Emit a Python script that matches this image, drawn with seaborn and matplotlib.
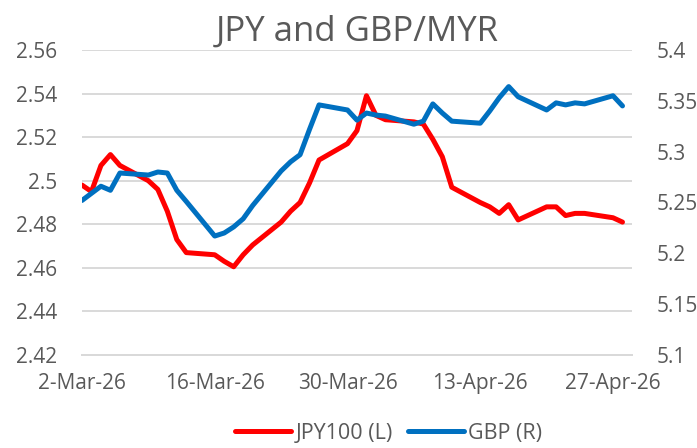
import pandas as pd
import matplotlib.pyplot as plt
import seaborn as sns

# daily fixes (weekdays)
dates = ["2026-03-02", "2026-03-03", "2026-03-04", "2026-03-05", "2026-03-06",
         "2026-03-09", "2026-03-10", "2026-03-11", "2026-03-12", "2026-03-13",
         "2026-03-16", "2026-03-17", "2026-03-18", "2026-03-19", "2026-03-20",
         "2026-03-23", "2026-03-24", "2026-03-25", "2026-03-26", "2026-03-27",
         "2026-03-30", "2026-03-31", "2026-04-01", "2026-04-02", "2026-04-03",
         "2026-04-06", "2026-04-07", "2026-04-08", "2026-04-09", "2026-04-10",
         "2026-04-13", "2026-04-14", "2026-04-15", "2026-04-16", "2026-04-17",
         "2026-04-20", "2026-04-21", "2026-04-22", "2026-04-23", "2026-04-24",
         "2026-04-27", "2026-04-28"]
jpy100 = [2.498, 2.495, 2.507, 2.512, 2.507,
          2.500, 2.496, 2.486, 2.473, 2.467,
          2.466, 2.463, 2.4605, 2.466, 2.4705,
          2.481, 2.486, 2.490, 2.499, 2.5095,
          2.517, 2.523, 2.539, 2.530, 2.528,
          2.527, 2.526, 2.519, 2.511, 2.497,
          2.490, 2.488, 2.485, 2.489, 2.482,
          2.488, 2.488, 2.484, 2.485, 2.485,
          2.483, 2.481]
gbp = [5.252, 5.259, 5.266, 5.262, 5.279,
       5.277, 5.280, 5.279, 5.262, 5.251,
       5.217, 5.220, 5.226, 5.234, 5.247,
       5.281, 5.290, 5.297, 5.322, 5.346,
       5.341, 5.331, 5.338, 5.336, 5.335,
       5.327, 5.330, 5.347, 5.338, 5.330,
       5.328, 5.340, 5.353, 5.364, 5.354,
       5.341, 5.348, 5.346, 5.348, 5.347,
       5.355, 5.345]
left_ticks = [2.42, 2.44, 2.46, 2.48, 2.5, 2.52, 2.54, 2.56]
left_labels = ["2.42", "2.44", "2.46", "2.48", "2.5", "2.52", "2.54", "2.56"]
right_ticks = [5.1, 5.15, 5.2, 5.25, 5.3, 5.35, 5.4]
right_labels = ["5.1", "5.15", "5.2", "5.25", "5.3", "5.35", "5.4"]
x_ticks = ["2026-03-02", "2026-03-16", "2026-03-30", "2026-04-13", "2026-04-27"]
x_labels = ["2-Mar-26", "16-Mar-26", "30-Mar-26", "13-Apr-26", "27-Apr-26"]

df = pd.DataFrame({"date": pd.to_datetime(dates), "jpy": jpy100, "gbp": gbp})

sns.set_style("white")
plt.rcParams["font.family"] = ["Open Sans", "DejaVu Sans"]
grey = "#595959"

fig = plt.figure(figsize=(6.97, 4.48), dpi=100)
ax = fig.add_axes([0.1176, 0.2076, 0.7891, 0.6808])
ax2 = ax.twinx()

sns.lineplot(data=df, x="date", y="jpy", ax=ax, color="#FF0000", linewidth=3.6,
             label="JPY100 (L)", legend=False, solid_capstyle="round",
             solid_joinstyle="round")
sns.lineplot(data=df, x="date", y="gbp", ax=ax2, color="#0070C0", linewidth=3.6,
             label="GBP (R)", legend=False, solid_capstyle="round",
             solid_joinstyle="round")

ax.set_ylim(2.42, 2.56)
ax2.set_ylim(5.1, 5.4)
ax.set_xlim(pd.Timestamp("2026-03-02"), pd.Timestamp("2026-04-29"))

ax.set_yticks(left_ticks)
ax.set_yticklabels(left_labels)
ax2.set_yticks(right_ticks)
ax2.set_yticklabels(right_labels)
ax.set_xticks(pd.to_datetime(x_ticks))
ax.set_xticklabels(x_labels)

ax.yaxis.grid(True, color="#D9D9D9", linewidth=1.4)
ax.set_axisbelow(True)
for a in (ax, ax2):
    for s in ["top", "left", "right"]:
        a.spines[s].set_visible(False)
    a.spines["bottom"].set_color("#D9D9D9")
    a.spines["bottom"].set_linewidth(1.4)
    a.set_xlabel("")
    a.set_ylabel("")
ax.tick_params(axis="y", length=0, pad=18, labelsize=15, labelcolor=grey)
ax2.tick_params(axis="y", length=0, pad=18, labelsize=15, labelcolor=grey)
ax.tick_params(axis="x", length=5, width=1.4, color="#D9D9D9", pad=8,
               labelsize=15, labelcolor=grey)

ax.set_title("JPY and GBP/MYR", fontsize=25, color=grey, pad=7)

h1, l1 = ax.get_legend_handles_labels()
h2, l2 = ax2.get_legend_handles_labels()
fig.legend(h1 + h2, l1 + l2, loc="center", bbox_to_anchor=(0.558, 0.033), ncol=2,
           frameon=False, fontsize=15.5, labelcolor=grey, handlelength=2.6,
           handletextpad=0.2, columnspacing=0.7)

plt.savefig("out.png", dpi=100)
